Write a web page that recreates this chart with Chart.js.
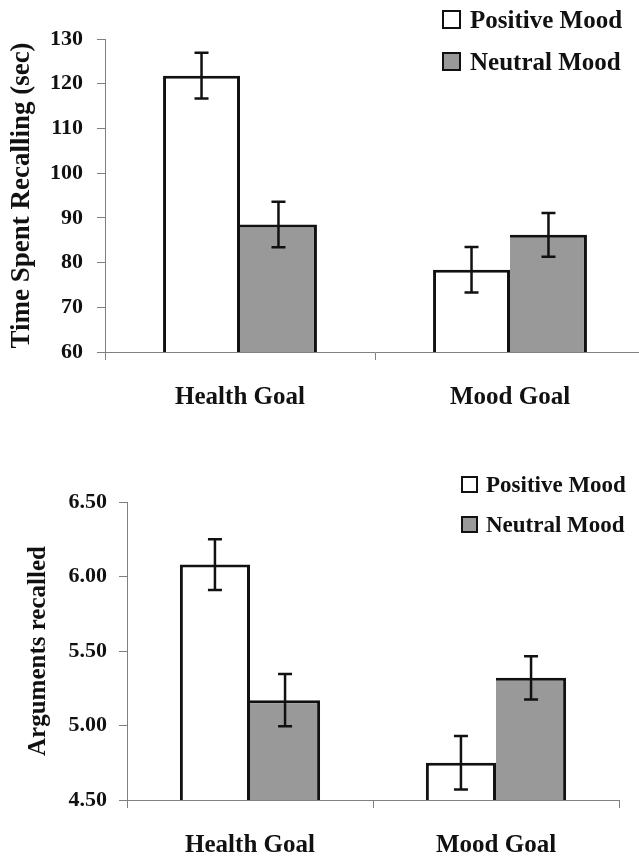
<!DOCTYPE html>
<html>
<head>
<meta charset="utf-8">
<script src="https://cdn.jsdelivr.net/npm/chart.js@4/dist/chart.umd.min.js"></script>
<style>
  html, body { margin: 0; padding: 0; background: #fff; overflow: hidden; width: 639px; height: 858px; }
  #timeChart { position: absolute; left: 0; top: 0; }
  #argsChart { position: absolute; left: 0; top: 430px; }
</style>
</head>
<body>
<canvas id="timeChart" width="680" height="420"></canvas>
<canvas id="argsChart" width="639" height="428"></canvas>
<script>
const categories = ["Health Goal", "Mood Goal"];
const seriesNames = ["Positive Mood", "Neutral Mood"];

// top panel: time spent recalling (sec)
const timePositive = [121.8, 78.4];
const timeNeutral = [88.5, 86.2];
const timePositiveErr = [5.1, 5.1];
const timeNeutralErr = [5.1, 4.9];
const timeTicks = [60, 70, 80, 90, 100, 110, 120, 130];

// bottom panel: arguments recalled
const argsPositive = [6.08, 4.75];
const argsNeutral = [5.17, 5.32];
const argsPositiveErr = [0.17, 0.18];
const argsNeutralErr = [0.175, 0.145];
const argsTicks = [4.5, 5.0, 5.5, 6.0, 6.5];

const FONT = "'Liberation Serif', 'Times New Roman', serif";
const AXIS = "#808080";
const FILLS = ["#ffffff", "#999999"];

const errorBars = {
    id: "errorBars",
    afterDatasetsDraw(chart, args, opts) {
        const ctx = chart.ctx;
        const y = chart.scales.y;
        ctx.save();
        ctx.strokeStyle = "#111";
        ctx.lineWidth = 2.5;
        chart.data.datasets.forEach((ds, i) => {
            const meta = chart.getDatasetMeta(i);
            meta.data.forEach((bar, j) => {
                const v = ds.data[j];
                const e = opts.errors[i][j];
                const top = y.getPixelForValue(v + e);
                const bot = y.getPixelForValue(v - e);
                const c = opts.cap;
                ctx.beginPath();
                ctx.moveTo(bar.x, top); ctx.lineTo(bar.x, bot);
                ctx.moveTo(bar.x - c, top); ctx.lineTo(bar.x + c, top);
                ctx.moveTo(bar.x - c, bot); ctx.lineTo(bar.x + c, bot);
                ctx.stroke();
            });
        });
        ctx.restore();
    }
};

const boxLegend = {
    id: "boxLegend",
    afterDraw(chart, args, opts) {
        const ctx = chart.ctx;
        ctx.save();
        ctx.font = opts.font;
        ctx.textBaseline = "alphabetic";
        chart.data.datasets.forEach((ds, i) => {
            const yb = opts.y + i * opts.gap;
            ctx.fillStyle = ds.backgroundColor;
            ctx.fillRect(opts.x, yb - opts.size, opts.size, opts.size);
            ctx.lineWidth = 2;
            ctx.strokeStyle = "#111";
            ctx.strokeRect(opts.x, yb - opts.size, opts.size, opts.size);
            ctx.fillStyle = "#111";
            ctx.fillText(ds.label, opts.textX, yb);
        });
        ctx.restore();
    }
};

function makeChart(id, cfg) {
    return new Chart(document.getElementById(id), {
        type: "bar",
        data: {
            labels: categories,
            datasets: [
                { label: seriesNames[0], data: cfg.positive, backgroundColor: FILLS[0],
                  borderWidth: 3 },
                // left edge is shared with the white bar's right border
                { label: seriesNames[1], data: cfg.neutral, backgroundColor: FILLS[1],
                  borderWidth: { top: 3, right: 3, bottom: 3, left: 0 } }
            ]
        },
        options: {
            responsive: false,
            animation: false,
            devicePixelRatio: 1,
            layout: { padding: { top: cfg.padTop, right: cfg.padRight, left: 0, bottom: 0 } },
            datasets: {
                bar: {
                    borderColor: "#111",
                    borderSkipped: false,
                    categoryPercentage: 0.57,
                    barPercentage: 1.0
                }
            },
            plugins: {
                legend: { display: false },
                tooltip: { enabled: false },
                errorBars: { errors: cfg.errors, cap: 7 },
                boxLegend: cfg.legend
            },
            scales: {
                x: {
                    afterFit: (s) => { s.height = cfg.xHeight; },
                    border: { display: true, color: AXIS, width: 1 },
                    grid: { display: true, offset: true, drawOnChartArea: false, drawTicks: true, tickLength: 8, color: AXIS },
                    ticks: { padding: 23, color: "#111", font: { family: FONT, size: 25, weight: cfg.xWeight } }
                },
                y: {
                    min: cfg.ticks[0],
                    max: cfg.ticks[cfg.ticks.length - 1],
                    afterFit: (s) => { s.width = cfg.yWidth; },
                    afterBuildTicks: (s) => { s.ticks = cfg.ticks.map(v => ({ value: v })); },
                    border: { display: true, color: AXIS, width: 1 },
                    grid: { display: true, drawOnChartArea: false, drawTicks: true, tickLength: 8, color: AXIS },
                    ticks: {
                        padding: cfg.tickPad,
                        color: "#111",
                        font: { family: FONT, size: 22, weight: cfg.tickWeight },
                        callback: cfg.fmt
                    },
                    title: {
                        display: true,
                        text: cfg.title,
                        color: "#111",
                        padding: { top: cfg.titlePad, bottom: 0 },
                        font: { family: FONT, size: cfg.titleSize, weight: "bold" }
                    }
                }
            }
        },
        plugins: [errorBars, boxLegend]
    });
}

makeChart("timeChart", {
    positive: timePositive,
    neutral: timeNeutral,
    errors: [timePositiveErr, timeNeutralErr],
    ticks: timeTicks,
    fmt: (v) => String(v),
    title: "Time Spent Recalling (sec)",
    titleSize: 27,
    titlePad: 6,
    padTop: 39,
    padRight: 35,
    yWidth: 105,
    xHeight: 68,
    tickPad: 14,
    tickWeight: "bold",
    xWeight: "bold",
    legend: { x: 443, textX: 470, y: 28, gap: 42, size: 17, font: "bold 25px " + FONT }
});

makeChart("argsChart", {
    positive: argsPositive,
    neutral: argsNeutral,
    errors: [argsPositiveErr, argsNeutralErr],
    ticks: argsTicks,
    fmt: (v) => Number(v).toFixed(2),
    title: "Arguments recalled",
    titleSize: 25,
    titlePad: 24,
    padTop: 72,
    padRight: 20,
    yWidth: 127,
    xHeight: 58,
    tickPad: 12,
    tickWeight: "bold",
    xWeight: "bold",
    legend: { x: 462, textX: 486, y: 62, gap: 40, size: 15, font: "bold 23px " + FONT }
});
</script>
</body>
</html>
